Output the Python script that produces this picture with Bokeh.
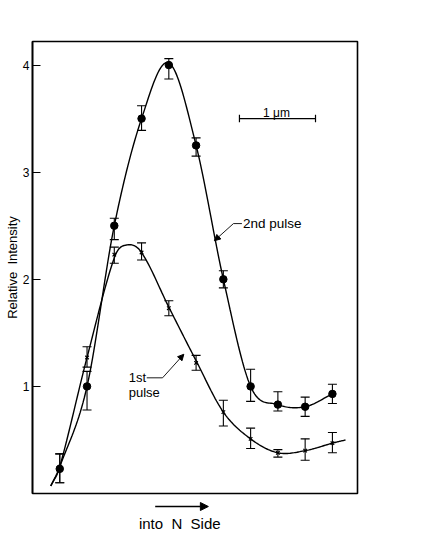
import numpy as np
from bokeh.plotting import figure
from bokeh.layouts import column
from bokeh.models import (ColumnDataSource, Whisker, TeeHead, Arrow, NormalHead,
                          Label, FixedTicker, Range1d)
from bokeh.embed import file_html
from bokeh.resources import INLINE

# ---------------- data ----------------
positions = [1, 2, 3, 4, 5, 6, 7, 8, 9, 10, 11]

second_pulse = [0.23, 1.00, 2.50, 3.50, 4.00, 3.25, 2.00, 1.00, 0.83, 0.81, 0.93]
second_lo    = [0.10, 0.78, 2.37, 3.39, 3.87, 3.15, 1.92, 0.86, 0.77, 0.72, 0.84]
second_hi    = [0.37, 1.14, 2.57, 3.62, 4.06, 3.32, 2.08, 1.16, 0.95, 0.90, 1.02]

first_pulse = [0.25, 1.27, 2.23, 2.25, 1.73, 1.22, 0.76, 0.51, 0.38, 0.40, 0.47]
first_lo    = [0.10, 1.18, 2.15, 2.18, 1.66, 1.15, 0.63, 0.42, 0.34, 0.31, 0.38]
first_hi    = [0.37, 1.37, 2.30, 2.34, 1.80, 1.29, 0.87, 0.61, 0.41, 0.51, 0.57]

# hand-drawn fitted curves (knots)
second_curve_x = [0.67, 1, 2, 3, 4, 5, 6, 7, 8, 9, 10, 11]
second_curve_y = [0.07, 0.25, 1.00, 2.50, 3.50, 4.02, 3.25, 2.00, 1.00, 0.83, 0.81, 0.93]
first_curve_x = [0.67, 1, 2, 3, 3.45, 4, 5, 6, 7, 8, 9, 10, 11, 11.48]
first_curve_y = [0.07, 0.25, 1.27, 2.20, 2.32, 2.25, 1.74, 1.24, 0.76, 0.51, 0.38, 0.40, 0.47, 0.50]

y_ticks = [1, 2, 3, 4]
y_title = "Relative\u00a0\u00a0Intensity"
x_title = "into\u00a0\u00a0N\u00a0\u00a0Side"

FONT = "Liberation Sans"


def smooth(xs, ys, n=20):
    xs = np.asarray(xs, float)
    ys = np.asarray(ys, float)
    m = np.zeros_like(ys)
    m[0] = (ys[1] - ys[0]) / (xs[1] - xs[0])
    m[-1] = (ys[-1] - ys[-2]) / (xs[-1] - xs[-2])
    for i in range(1, len(xs) - 1):
        m[i] = (ys[i + 1] - ys[i - 1]) / (xs[i + 1] - xs[i - 1])
    ox, oy = [], []
    for i in range(len(xs) - 1):
        h = xs[i + 1] - xs[i]
        t = np.linspace(0, 1, n, endpoint=(i == len(xs) - 2))
        h00 = 2 * t**3 - 3 * t**2 + 1
        h10 = t**3 - 2 * t**2 + t
        h01 = -2 * t**3 + 3 * t**2
        h11 = t**3 - t**2
        ox.extend(xs[i] + t * h)
        oy.extend(h00 * ys[i] + h10 * h * m[i] + h01 * ys[i + 1] + h11 * h * m[i + 1])
    return ox, oy


MAIN_H = 495
p = figure(width=437, height=MAIN_H, output_backend="svg", toolbar_location=None,
           x_range=Range1d(0, 11.92), y_range=Range1d(0, 4.22),
           min_border_left=32, min_border_right=80, min_border_top=41,
           min_border_bottom=2)
p.background_fill_color = "white"
p.border_fill_color = "white"
p.grid.visible = False
p.outline_line_color = "black"
p.outline_line_width = 1.6

# axes
p.xaxis.visible = False
ya = p.yaxis[0]
ya.ticker = FixedTicker(ticks=y_ticks)
ya.minor_tick_line_color = None
ya.major_tick_in = 8
ya.major_tick_out = 0
ya.major_tick_line_color = "black"
ya.major_tick_line_width = 1
ya.axis_line_color = "black"
ya.axis_line_width = 1.6
ya.major_label_standoff = 3
ya.major_label_text_font = FONT
ya.major_label_text_font_size = "12px"
ya.major_label_text_color = "black"
ya.axis_label = y_title
ya.axis_label_text_font = FONT
ya.axis_label_text_font_size = "13px"
ya.axis_label_text_font_style = "normal"
ya.axis_label_text_color = "black"
ya.axis_label_standoff = 0

# curves
sx, sy = smooth(second_curve_x, second_curve_y)
p.line(sx, sy, line_color="black", line_width=1.4)
fx, fy = smooth(first_curve_x, first_curve_y)
p.line(fx, fy, line_color="black", line_width=1.4)

# error bars and markers
src2 = ColumnDataSource(dict(x=positions, y=second_pulse, lo=second_lo, hi=second_hi))
src1 = ColumnDataSource(dict(x=positions, y=first_pulse, lo=first_lo, hi=first_hi))
for src in (src2, src1):
    p.add_layout(Whisker(base="x", lower="lo", upper="hi", source=src,
                         line_color="black", line_width=1.1,
                         upper_head=TeeHead(size=9, line_color="black", line_width=1.1),
                         lower_head=TeeHead(size=9, line_color="black", line_width=1.1)))
p.scatter("x", "y", source=src2, marker="circle", size=7.5,
          fill_color="black", line_color="black")
p.scatter("x", "y", source=src1, marker="x", size=5,
          line_color="black", line_width=1.2)

# scale bar "1 μm"
bar_x0, bar_x1, bar_y = 7.59, 10.38, 3.50
p.segment(x0=[bar_x0], y0=[bar_y], x1=[bar_x1], y1=[bar_y], line_color="black", line_width=1.2)
p.segment(x0=[bar_x0, bar_x1], y0=[bar_y - 0.035, bar_y - 0.035],
          x1=[bar_x0, bar_x1], y1=[bar_y + 0.035, bar_y + 0.035],
          line_color="black", line_width=1.2)
p.add_layout(Label(x=8.95, y=3.55, text="1 μm", text_align="center",
                   text_baseline="alphabetic", text_font=FONT,
                   text_font_size="12px", text_color="black"))

# "2nd pulse" label with leader
p.add_layout(Label(x=7.72, y=2.52, text="2nd pulse", text_align="left",
                   text_baseline="middle", text_font=FONT,
                   text_font_size="13.5px", text_color="black"))
p.line([7.68, 7.37], [2.52, 2.52], line_color="black", line_width=0.9)
p.add_layout(Arrow(x_start=7.37, y_start=2.52, x_end=6.67, y_end=2.36,
                   line_color="black", line_width=0.9,
                   end=NormalHead(size=6, fill_color="black", line_color="black")))

# "1st pulse" label with leader
p.add_layout(Label(x=3.53, y=1.08, text="1st", text_align="left",
                   text_baseline="middle", text_font=FONT,
                   text_font_size="13px", text_color="black"))
p.add_layout(Label(x=3.53, y=0.94, text="pulse", text_align="left",
                   text_baseline="middle", text_font=FONT,
                   text_font_size="13px", text_color="black"))
p.line([4.19, 4.77], [1.08, 1.08], line_color="black", line_width=0.9)
p.add_layout(Arrow(x_start=4.77, y_start=1.08, x_end=5.55, y_end=1.30,
                   line_color="black", line_width=0.9,
                   end=NormalHead(size=6, fill_color="black", line_color="black")))

# ---- strip under the frame: direction arrow and x title ----
q = figure(width=437, height=539 - MAIN_H, output_backend="svg", toolbar_location=None,
           x_range=p.x_range, y_range=Range1d(0, 539 - MAIN_H),
           min_border_left=32, min_border_right=80, min_border_top=0,
           min_border_bottom=0)
q.axis.visible = False
q.grid.visible = False
q.outline_line_color = None
q.background_fill_color = "white"
q.border_fill_color = "white"
q.add_layout(Arrow(x_start=4.5, y_start=33, x_end=6.45, y_end=33,
                   line_color="black", line_width=1.3,
                   end=NormalHead(size=8, fill_color="black", line_color="black")))
q.add_layout(Label(x=5.4, y=16, text=x_title, text_align="center",
                   text_baseline="middle", text_font=FONT,
                   text_font_size="15px", text_color="black"))

layout = column(p, q, spacing=0)
open("out.html", "w").write(file_html(layout, INLINE))
